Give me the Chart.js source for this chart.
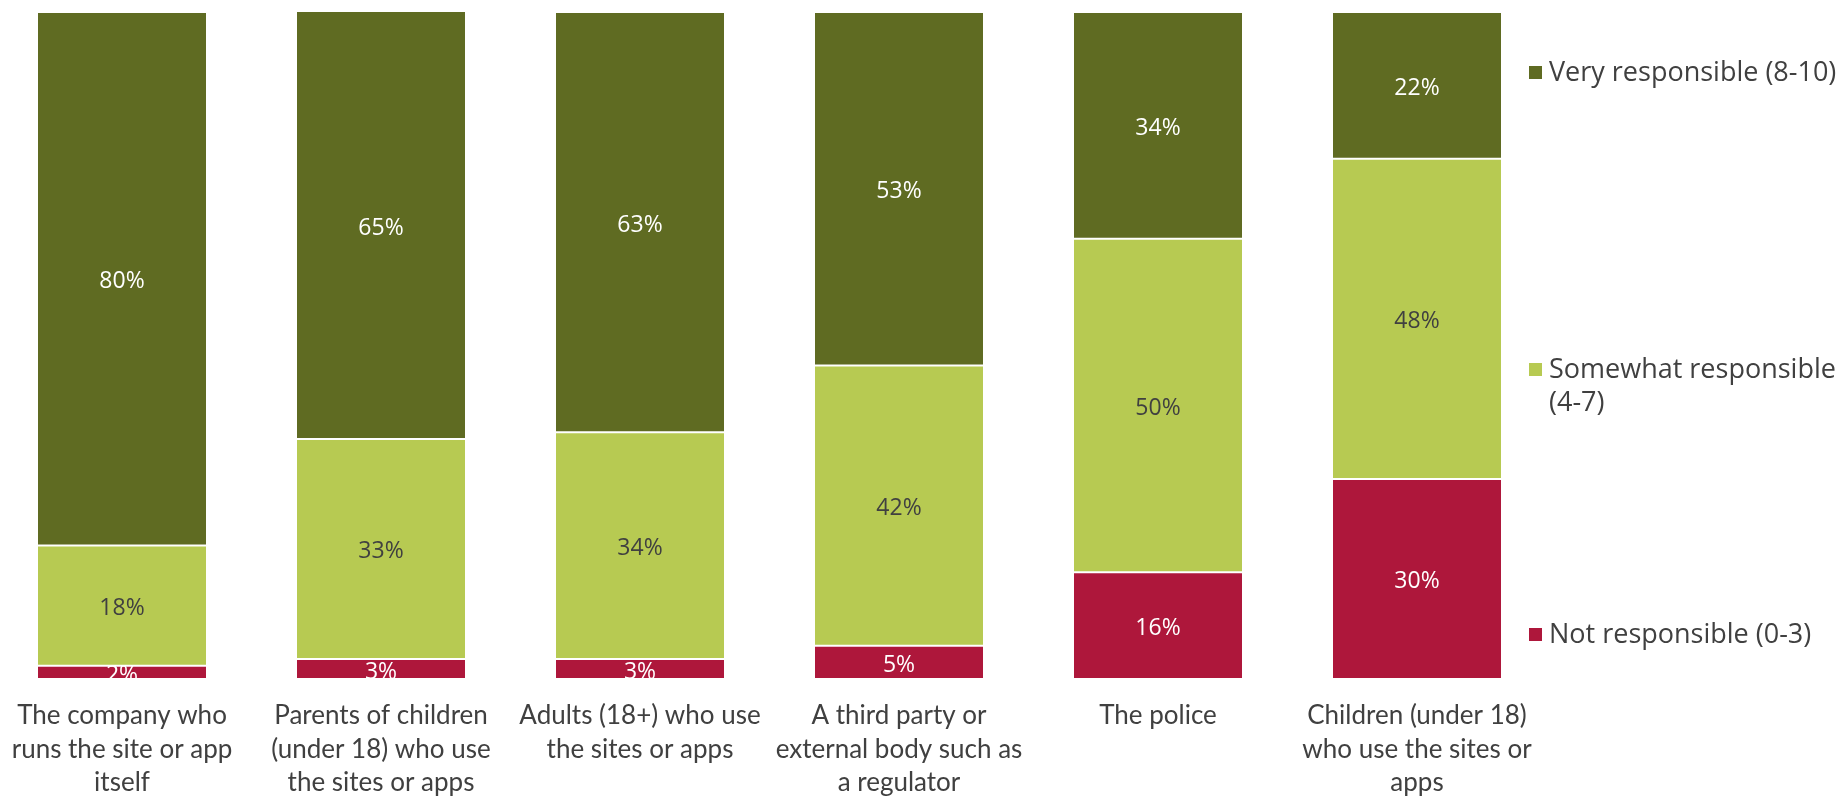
<!DOCTYPE html>
<html>
<head>
<meta charset="utf-8">
<script src="https://cdn.jsdelivr.net/npm/chart.js@4.4.1/dist/chart.umd.min.js"></script>
<style>
  html, body { margin: 0; padding: 0; background: #ffffff; overflow: hidden; }
  #wrap { position: relative; width: 1848px; height: 797px; overflow: hidden; }
  #c { position: absolute; left: -8px; top: 0; }
</style>
</head>
<body>
<div id="wrap"><canvas id="c" width="1856" height="797"></canvas></div>
<script>
// ---- data ----
const categories = [
  ["The company who", "runs the site or app", "itself"],
  ["Parents of children", "(under 18) who use", "the sites or apps"],
  ["Adults (18+) who use", "the sites or apps"],
  ["A third party or", "external body such as", "a regulator"],
  ["The police"],
  ["Children (under 18)", "who use the sites or", "apps"]
];
const notResponsible = [2, 3, 3, 5, 16, 30];
const somewhatResponsible = [18, 33, 34, 42, 50, 48];
const veryResponsible = [80, 65, 63, 53, 34, 22];
const seriesNames = ["Not responsible (0-3)", "Somewhat responsible (4-7)", "Very responsible (8-10)"];
const legendLines = {
  "Very responsible (8-10)": ["Very responsible (8-10)"],
  "Somewhat responsible (4-7)": ["Somewhat responsible", "(4-7)"],
  "Not responsible (0-3)": ["Not responsible (0-3)"]
};

const OFFSET = 8;
const colors = ["#AE173B", "#B7CA52", "#5F6B22"];
const labelColors = ["#FFFFFF", "#404040", "#FFFFFF"];

const dataLabels = {
  id: 'dataLabels',
  afterDatasetsDraw(chart) {
    const ctx = chart.ctx, area = chart.chartArea;
    ctx.save();
    ctx.beginPath();
    ctx.rect(area.left, area.top, area.right - area.left, area.bottom - area.top);
    ctx.clip();
    ctx.font = '23px "Open Sans"';
    ctx.textAlign = 'center';
    ctx.textBaseline = 'middle';
    chart.data.datasets.forEach((ds, di) => {
      const meta = chart.getDatasetMeta(di);
      meta.data.forEach((el, i) => {
        const top = Math.max(el.y, area.top);
        const yc = (top + el.base) / 2;
        ctx.fillStyle = labelColors[di];
        ctx.fillText(ds.data[i] + '%', el.x, yc + 3);
      });
    });
    ctx.restore();
  }
};

const legendPlugin = {
  id: 'customLegend',
  afterDraw(chart) {
    const ctx = chart.ctx;
    const pos = [
      { name: seriesNames[2], y: 72, color: colors[2] },
      { name: seriesNames[1], y: 369, color: colors[1] },
      { name: seriesNames[0], y: 634, color: colors[0] }
    ];
    ctx.save();
    ctx.font = '27px "Open Sans"';
    ctx.textAlign = 'left';
    ctx.textBaseline = 'middle';
    pos.forEach(p => {
      ctx.fillStyle = p.color;
      ctx.fillRect(1529 + OFFSET, p.y - 6, 13, 13);
      ctx.fillStyle = '#404040';
      legendLines[p.name].forEach((ln, k) => {
        ctx.fillText(ln, 1549 + OFFSET, p.y + 1 + k * 33);
      });
    });
    ctx.restore();
  }
};

function draw() {
  const barPct = 170 / 259;
  const mk = (label, data, color) => ({
    label, data,
    backgroundColor: color,
    borderColor: '#FFFFFF',
    borderWidth: 1,
    borderSkipped: false,
    categoryPercentage: 1.0,
    barPercentage: barPct,
    clip: 0
  });
  new Chart(document.getElementById('c'), {
    type: 'bar',
    data: {
      labels: categories,
      datasets: [
        mk(seriesNames[0], notResponsible, colors[0]),
        mk(seriesNames[1], somewhatResponsible, colors[1]),
        mk(seriesNames[2], veryResponsible, colors[2])
      ]
    },
    options: {
      responsive: false,
      animation: false,
      devicePixelRatio: 1,
      layout: { padding: { left: 0.5, right: 1856 - 1554.5, top: 12, bottom: 0 } },
      plugins: { legend: { display: false }, tooltip: { enabled: false } },
      scales: {
        x: {
          stacked: true,
          grid: { display: false },
          border: { display: false },
          ticks: {
            color: '#404040',
            font: { family: 'Lato', size: 26, lineHeight: 1.29 },
            padding: 12,
            maxRotation: 0,
            autoSkip: false
          },
          afterFit(axis) { axis.height = 797 - 679; }
        },
        y: {
          stacked: true,
          display: false,
          min: 0,
          max: 100
        }
      }
    },
    plugins: [dataLabels, legendPlugin]
  });
}

Promise.all([
  document.fonts.load('26px Lato'),
  document.fonts.load('23px "Open Sans"'),
  document.fonts.load('27px "Open Sans"')
]).then(draw, draw);
</script>
</body>
</html>
